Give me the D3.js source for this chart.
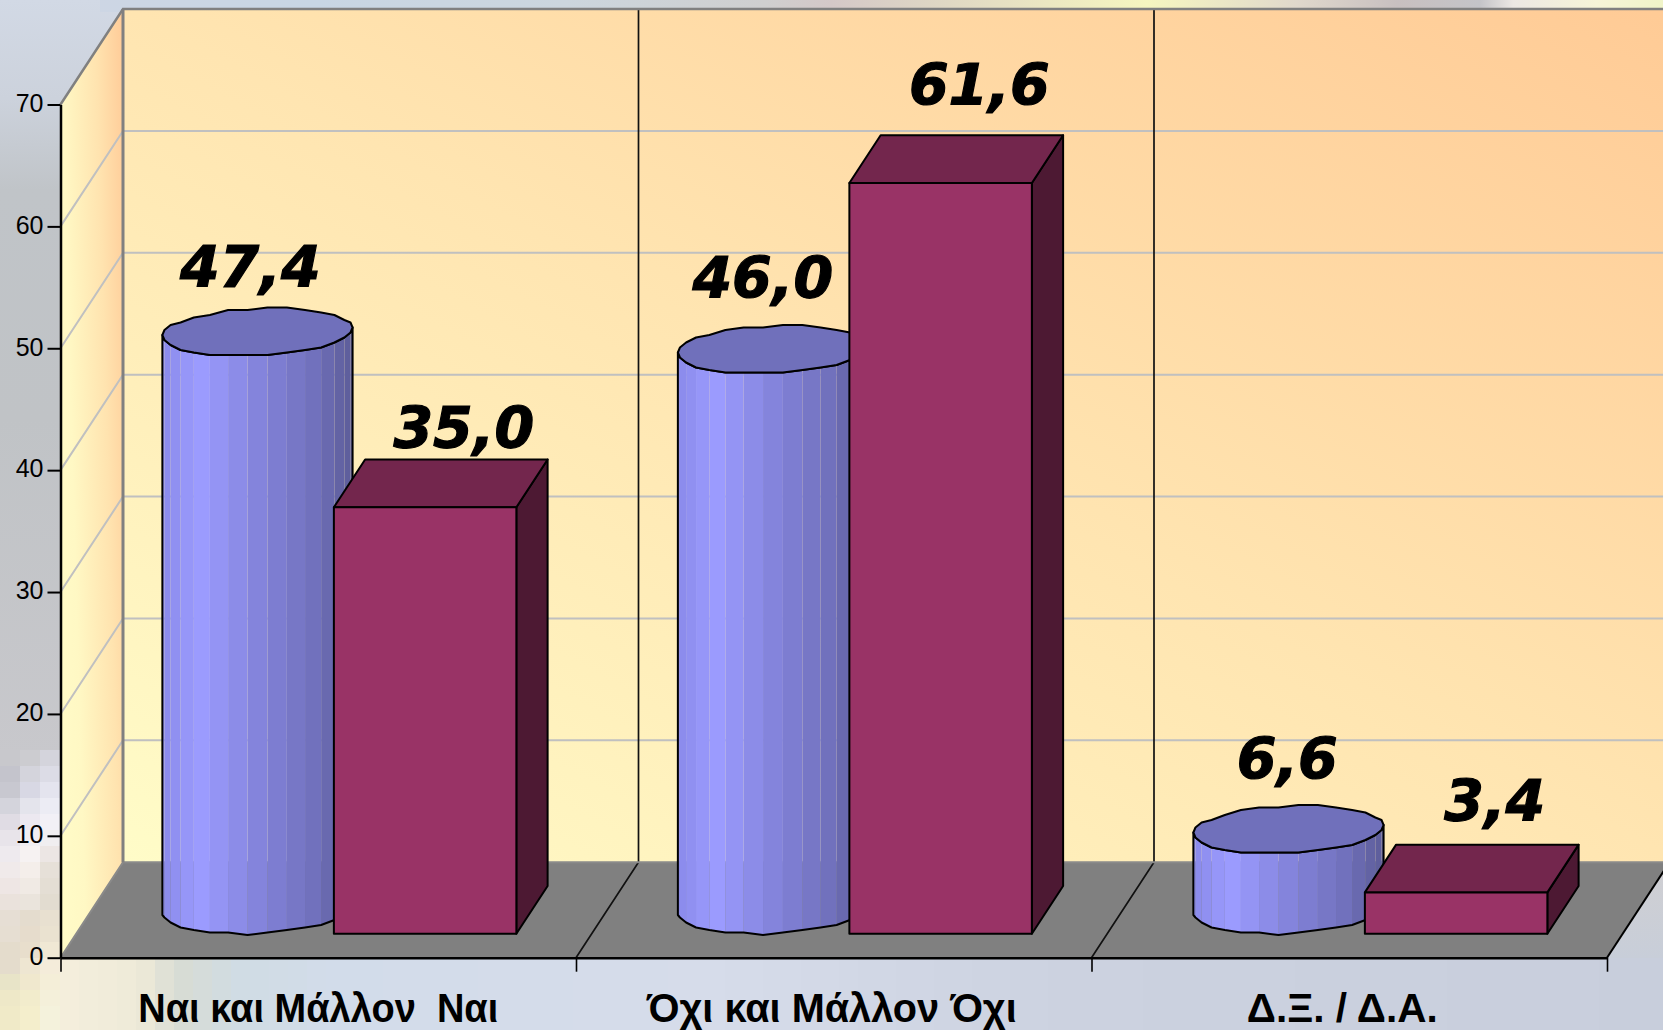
<!DOCTYPE html>
<html lang="el">
  <head>
    <meta charset="utf-8">
    <title>Ναι / Όχι</title>
    <script src="https://d3js.org/d3.v7.min.js"></script>
    <style>
      html, body { margin: 0; padding: 0; background: #d0d8e4; overflow: hidden; }
      svg { display: block; font-family: "Liberation Sans", Arial, sans-serif; }
      .domain { stroke: #000; stroke-width: 2.5px; }
      .tick line { stroke: #000; stroke-width: 2px; }
      .tick text { font-size: 25px; fill: #000; }
      .cat { font-size: 40px; font-weight: bold; text-anchor: middle; white-space: pre; }
      .val { font-family: "DejaVu Sans", sans-serif; font-size: 57px; font-weight: bold; font-style: italic; text-anchor: middle; stroke: #000; stroke-width: 1.2px; }
      .edge { stroke: #000; stroke-width: 2px; stroke-linejoin: round; }
    </style>
  </head>
  <body>
  <div id="chart"></div>
  <script>

  // the data
  var categories = ["Ναι και Μάλλον  Ναι", "Όχι και Μάλλον Όχι", "Δ.Ξ. / Δ.Α."];
  var cylinderValues = [47.4, 46.0, 6.6];
  var boxValues = [35.0, 61.6, 3.4];
  var valueTicks = [0, 10, 20, 30, 40, 50, 60, 70];

  var width = 1663, height = 1030;

  var svg = d3.select("#chart").append("svg")
      .attr("width", width)
      .attr("height", height);

  // scales: x runs over the categories, y over the values, depth is the 3d offset
  var x = d3.scaleLinear().domain([0, 3]).range([60.5, 1607]);
  var y = d3.scaleLinear().domain([0, 70]).range([957.7, 104.5]);
  var depthX = d3.scaleLinear().domain([0, 1]).range([0, 62.5]);
  var depthY = d3.scaleLinear().domain([0, 1]).range([0, -95.5]);

  // project a (category position, value, depth) to the screen
  function px(c, d) { return x(c) + depthX(d); }
  function py(v, d) { return y(v) + depthY(d); }
  function pt(c, v, d) { return [px(c, d), py(v, d)]; }
  var line = d3.line();
  function poly(points) { return line(points) + "Z"; }

  var defs = svg.append("defs");

  function gradient(id, x1, y1, x2, y2, stops) {
    var g = defs.append("linearGradient").attr("id", id)
        .attr("gradientUnits", "userSpaceOnUse")
        .attr("x1", x1).attr("y1", y1).attr("x2", x2).attr("y2", y2);
    stops.forEach(function(s) {
      g.append("stop").attr("offset", s[0]).attr("stop-color", s[1]);
    });
  }

  gradient("leftBg", 0, 0, 0, 760, [[0, "#d2d9e5"], [0.13, "#ccd2dc"], [0.25, "#c0c4c8"], [0.55, "#c0c3c6"], [1, "#c8c8cc"]]);
  gradient("topBg", 0, 0, 1663, 0, [[0, "#cfd6e4"], [0.19, "#c8d6e4"], [0.34, "#ccd6de"], [0.46, "#cfcfcf"], [0.5, "#d4c8c8"],
    [0.57, "#e0d8c4"], [0.69, "#f6f6c0"], [0.78, "#e0d8cc"], [0.84, "#c8c0c0"], [0.89, "#c4c4c8"], [0.91, "#ece8e4"], [0.96, "#f6f4d8"], [1, "#f0f4c8"]]);
  gradient("cornerBg", 0, 860, 0, 958, [[0, "#d0cfd2"], [1, "#c8ced9"]]);
  gradient("backWall", 123, 862, 964, -666, [[0, "#fffcc8"], [0.43, "#ffe5b1"], [0.85, "#ffcb96"], [1, "#ffc890"]]);
  gradient("leftWall", 60, 958, 148.5, 955.5, [[0, "#fffcc8"], [0.3, "#fff8c4"], [0.7, "#ffe3af"], [1, "#ffcc99"]]);

  // background picture, blocky like the original
  var bg = svg.append("g");
  bg.append("rect").attr("width", 125).attr("height", 770).attr("fill", "url(#leftBg)");
  bg.append("rect").attr("x", 100).attr("width", width - 100).attr("height", 12).attr("fill", "url(#topBg)");
  bg.append("rect").attr("x", 1560).attr("y", 860).attr("width", 103).attr("height", 98).attr("fill", "url(#cornerBg)");

  var cornerRows = [
    ["#c8c8cc", "#ccccd0", "#d4d4dc"], ["#c4c4cc", "#d4d4dc", "#dcdce6"], ["#c8c8d0", "#d8d8e4", "#e4e4ee"],
    ["#d4d4dc", "#e4e4ec", "#ececf4"], ["#e0dce4", "#ece8f0", "#f2f0f6"], ["#e8e4ea", "#f0eef2", "#f0eef0"],
    ["#eeeaee", "#f6f2f2", "#ece6e4"], ["#f0eaea", "#f4eeea", "#e6e0d8"], ["#eee6e4", "#f0eae4", "#e4ded4"],
    ["#eae2dc", "#eae4dc", "#e2dcd0"], ["#e6ded4", "#e4dcce", "#e8e0d0"], ["#e6ded2", "#e6dccc", "#eae2d0"],
    ["#e4dccc", "#e8decc", "#f0e8d4"], ["#e4dccc", "#eee6d2", "#f4ecda"], ["#e8e4c8", "#f0e8ce", "#f4eed8"],
    ["#eee8c8", "#f2eccc", "#f4f0da"], ["#f0eac8", "#f4eecc", "#f4f2dc"], ["#f0eac8", "#f4eecc", "#f4f2dc"]
  ];
  cornerRows.forEach(function(row, r) {
    row.forEach(function(col, c) {
      bg.append("rect").attr("x", c * 20).attr("y", 750 + r * 16).attr("width", 20).attr("height", 16).attr("fill", col);
    });
  });

  var stripColor = d3.scaleLinear()
      .domain([60, 130, 170, 230, 330, 700, 1050, 1663])
      .range(["#f4eedc", "#eeead8", "#d8dcd4", "#d0dce4", "#d2dcea", "#d6dcea", "#ccd2e0", "#c8cedc"]);
  d3.range(60, width, 19).forEach(function(sx) {
    bg.append("rect").attr("x", sx).attr("y", 958).attr("width", 19).attr("height", 72).attr("fill", stripColor(sx));
  });

  // walls and floor
  var walls = svg.append("g");
  walls.append("path")
      .attr("d", poly([pt(0, 0, 1), pt(0, 70, 1), pt(3.2, 70, 1), pt(3.2, 0, 1)]))
      .attr("fill", "url(#backWall)");
  walls.append("path")
      .attr("d", poly([pt(0, 0, 0), pt(0, 70, 0), pt(0, 70, 1), pt(0, 0, 1)]))
      .attr("fill", "url(#leftWall)");
  walls.append("path")
      .attr("d", poly([pt(0, 0, 0), pt(3, 0, 0), pt(3, 0, 1), pt(0, 0, 1)]))
      .attr("fill", "#808080");

  // gridlines on both walls
  walls.selectAll(".grid").data(valueTicks.slice(1, -1)).enter().append("path")
      .attr("d", function(v) { return line([pt(0, v, 0), pt(0, v, 1), pt(3.2, v, 1)]); })
      .attr("fill", "none")
      .attr("stroke", "#c0c0c0")
      .attr("stroke-width", 2);

  // category dividers, up the wall and across the floor
  walls.selectAll(".divider").data([1, 2]).enter().append("path")
      .attr("d", function(c) { return line([pt(c, 70, 1), pt(c, 0, 1), pt(c, 0, 0)]); })
      .attr("fill", "none")
      .attr("stroke", "#111")
      .attr("stroke-width", 1.7);
  walls.append("path")
      .attr("d", line([pt(3, 0, 0), pt(3, 0, 1)]))
      .attr("stroke", "#000").attr("stroke-width", 2);

  // wall frame
  walls.append("path")
      .attr("d", line([pt(0, 0, 0), pt(0, 0, 1), pt(3.2, 0, 1)]))
      .attr("fill", "none").attr("stroke", "#8a8a8a").attr("stroke-width", 2);
  walls.append("path")
      .attr("d", line([pt(0, 70, 0), pt(0, 70, 1), pt(3.2, 70, 1)]))
      .attr("fill", "none").attr("stroke", "#808080").attr("stroke-width", 2.5);
  walls.append("path")
      .attr("d", line([pt(0, 70, 1), pt(0, 0, 1)]))
      .attr("stroke", "#808080").attr("stroke-width", 3);

  // axes
  var yAxis = svg.append("g")
      .attr("transform", "translate(" + x(0) + ",0)")
      .call(d3.axisLeft(y).tickValues(valueTicks).tickSize(13).tickPadding(4).tickSizeOuter(0));
  yAxis.selectAll("text").attr("dy", "0.27em");
  var xAxis = svg.append("g")
      .attr("transform", "translate(0," + y(0) + ")")
      .call(d3.axisBottom(x).tickValues([0, 1, 2, 3]).tickFormat("").tickSize(14).tickSizeOuter(0));
  xAxis.selectAll("line").style("stroke-width", "1.6px");

  // label widths as measured, the original font is set a little tighter
  var catWidths = [360, 370, 191];
  var catShift = [0, -2, -7];
  svg.selectAll(".cat").data(categories).enter().append("text")
      .attr("class", "cat")
      .attr("x", function(d, i) { return x(i + 0.5) + catShift[i]; })
      .attr("y", 1021.5)
      .attr("textLength", function(d, i) { return catWidths[i]; })
      .attr("lengthAdjust", "spacingAndGlyphs")
      .text(function(d) { return d; });

  // bars sit between these fractions of the category and of the depth
  var cylLeft = 0.1395, cylRight = 0.5035, boxLeft = 0.5, boxRight = 0.854;
  var nearD = 0.25, farD = 0.75, segments = 30;

  var sideColor = d3.scaleLinear()
      .domain([0, 0.2, 0.5, 0.8, 1])
      .range(["#8a8aea", "#9c9cff", "#8484dc", "#7070bc", "#5c5c98"]);

  // rounded like the jagged outline of the original
  function snap(v) { return Math.round(v / 2.5) * 2.5; }

  function ring(c, v, ang) {
    var half = (cylRight - cylLeft) / 2, mid = (farD + nearD) / 2, rd = (farD - nearD) / 2;
    var cc = c + cylLeft + half;
    return [
      px(cc + half * Math.cos(ang), mid + rd * Math.sin(ang)),
      snap(py(v, mid + rd * Math.sin(ang)))
    ];
  }

  function drawCylinder(g, c, v) {
    var angles = d3.range(segments).map(function(i) { return i * 2 * Math.PI / segments; });
    // the visible front of the side runs from the rightmost to the leftmost point
    var a0 = Math.atan2(depthX((farD - nearD) / 2), x((cylRight - cylLeft) / 2) - x(0));
    var front = d3.range(segments / 2 + 1).map(function(i) { return a0 - i * 2 * Math.PI / segments; });
    var xs = front.map(function(a) { return ring(c, 0, a)[0]; });
    var lo = d3.min(xs), hi = d3.max(xs);
    front.slice(0, -1).forEach(function(a, i) {
      var b = front[i + 1];
      var mx = (ring(c, 0, a)[0] + ring(c, 0, b)[0]) / 2;
      g.append("path")
          .attr("d", poly([ring(c, 0, a), ring(c, 0, b), ring(c, v, b), ring(c, v, a)]))
          .attr("fill", sideColor((mx - lo) / (hi - lo)));
    });
    var outline = front.map(function(a) { return ring(c, 0, a); })
        .concat(front.slice().reverse().map(function(a) { return ring(c, v, a); }));
    g.append("path").attr("class", "edge").attr("d", poly(outline)).attr("fill", "none");
    g.append("path").attr("class", "edge")
        .attr("d", poly(angles.map(function(a) { return ring(c, v, a + a0); })))
        .attr("fill", "#7070bb");
  }

  function drawBox(g, c, v) {
    var l = c + boxLeft, r = c + boxRight;
    g.append("path").attr("class", "edge")
        .attr("d", poly([pt(r, 0, nearD), pt(r, 0, farD), pt(r, v, farD), pt(r, v, nearD)]))
        .attr("fill", "#4d1933");
    g.append("path").attr("class", "edge")
        .attr("d", poly([pt(l, v, nearD), pt(l, v, farD), pt(r, v, farD), pt(r, v, nearD)]))
        .attr("fill", "#73264d");
    g.append("path").attr("class", "edge")
        .attr("d", poly([pt(l, 0, nearD), pt(r, 0, nearD), pt(r, v, nearD), pt(l, v, nearD)]))
        .attr("fill", "#993366");
  }

  function label(g, value, lx, ly) {
    g.append("text").attr("class", "val")
        .attr("x", lx).attr("y", ly)
        .text(value.toFixed(1).replace(".", ","));
  }

  // how far each value label is lifted above its bar, and moved along x
  var cylLift = [45, 51, 51];
  var boxLift = [59, 78, 71];
  var cylShift = [-8, -11, -2];

  var labels = svg.append("g");
  var bars = svg.append("g");
  categories.forEach(function(d, i) {
    label(labels, cylinderValues[i], px(i + 0.323, 0.5) + cylShift[i], py(cylinderValues[i], 0.5) - cylLift[i]);
    label(labels, boxValues[i], px(i + 0.677, 0.5) + 23, py(boxValues[i], nearD) - boxLift[i]);
    drawCylinder(bars, i, cylinderValues[i]);
    drawBox(bars, i, boxValues[i]);
  });

</script>
  </body>
</html>
